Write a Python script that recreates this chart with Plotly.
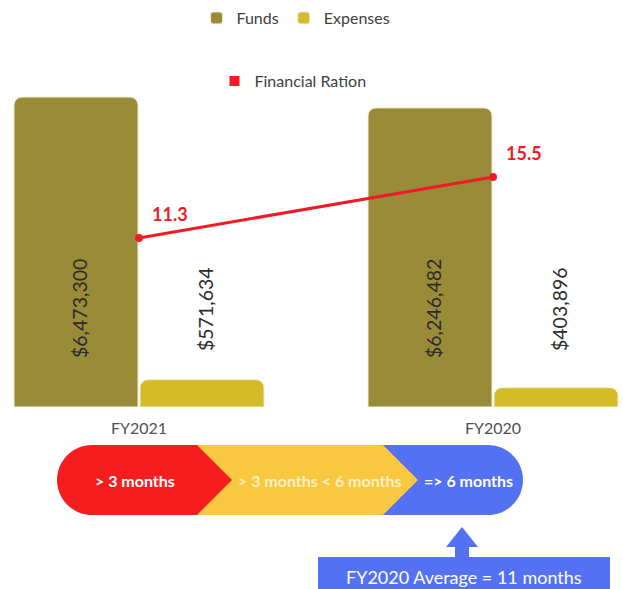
import plotly.graph_objects as go

# ---- data ----
years = ["FY2021", "FY2020"]
funds = [6473300, 6246482]
expenses = [571634, 403896]
ratio = [11.3, 15.5]

band_labels = ["> 3 months", "> 3 months < 6 months", "=> 6 months"]
average_label = "FY2020 Average = 11 months"

# ---- styling ----
W, H = 623, 589
FONT = "Lato"
OLIVE = "#9A8B38"
YELLOW = "#D4BB2A"
RED = "#EE1C25"
BAND_RED = "#F41E1E"
BAND_YELLOW = "#F8C840"
BAND_BLUE = "#5571F3"


def px(x):
    return x / W


def py(y):
    return 1 - y / H


fig = go.Figure()

fig.add_trace(go.Bar(
    x=years, y=funds, name="Funds",
    marker=dict(color=OLIVE, cornerradius=8, line=dict(color="#F3EED2", width=1)),
    hoverinfo="x+y",
))
fig.add_trace(go.Bar(
    x=years, y=expenses, name="Expenses",
    marker=dict(color=YELLOW, cornerradius=8, line=dict(color="#F3EED2", width=1)),
    hoverinfo="x+y",
))
fig.add_trace(go.Scatter(
    x=years, y=ratio, yaxis="y2", mode="lines+markers",
    line=dict(color=RED, width=3), marker=dict(color=RED, size=8),
    name="Financial Ration", showlegend=False,
))
# square key for the ratio line in its own legend row
fig.add_trace(go.Scatter(
    x=[None], y=[None], mode="markers", yaxis="y2",
    marker=dict(color=RED, symbol="square", size=10),
    name="Financial Ration", legend="legend2",
))

annotations = []
# value labels written vertically over each bar pair
for yr, f, e in zip(years, funds, expenses):
    annotations.append(dict(
        x=yr, xref="x", y=py(309), yref="paper", text=f"${f:,}",
        textangle=-90, showarrow=False, xshift=-60,
        xanchor="center", yanchor="middle",
        font=dict(family=FONT, size=19.5, color="#2b2b2b"),
    ))
    annotations.append(dict(
        x=yr, xref="x", y=py(309), yref="paper", text=f"${e:,}",
        textangle=-90, showarrow=False, xshift=66,
        xanchor="center", yanchor="middle",
        font=dict(family=FONT, size=19.5, color="#2b2b2b"),
    ))
# ratio labels
for yr, r in zip(years, ratio):
    annotations.append(dict(
        x=yr, xref="x", y=r, yref="y2", text=f"<b>{r}</b>",
        showarrow=False, xshift=31, yshift=24,
        xanchor="center", yanchor="middle",
        font=dict(family=FONT, size=18, color=RED),
    ))

# band captions
band_centers = [(135, "#FFFFFF"), (320, "#FFF1C4"), (468, "#FFFFFF")]
for lbl, (cx, col) in zip(band_labels, band_centers):
    annotations.append(dict(
        x=px(cx), y=py(480), xref="paper", yref="paper",
        xanchor="center", yanchor="middle",
        text=f"<b>{lbl}</b>", showarrow=False,
        font=dict(family=FONT, size=16, color=col),
    ))
annotations.append(dict(
    x=px(464), y=py(577), xref="paper", yref="paper",
    xanchor="center", yanchor="middle",
    text=average_label, showarrow=False,
    font=dict(family=FONT, size=18, color="#FFFFFF"),
))


def path(points):
    return "M " + " L ".join(f"{px(x):.5f},{py(y):.5f}" for x, y in points) + " Z"


k = 0.5523 * 35
top, mid, bot = 445, 480, 515

# blue band with rounded right end (drawn first, others overlap it)
blue_path = (
    f"M {px(197):.5f},{py(top):.5f} L {px(488):.5f},{py(top):.5f} "
    f"C {px(488 + k):.5f},{py(top):.5f} {px(523):.5f},{py(mid - k):.5f} {px(523):.5f},{py(mid):.5f} "
    f"C {px(523):.5f},{py(mid + k):.5f} {px(488 + k):.5f},{py(bot):.5f} {px(488):.5f},{py(bot):.5f} "
    f"L {px(197):.5f},{py(bot):.5f} Z"
)
yellow_path = path([(197, top), (383, top), (418, mid), (383, bot), (197, bot)])
red_path = (
    f"M {px(92):.5f},{py(top):.5f} L {px(197):.5f},{py(top):.5f} "
    f"L {px(232):.5f},{py(mid):.5f} L {px(197):.5f},{py(bot):.5f} L {px(92):.5f},{py(bot):.5f} "
    f"C {px(92 - k):.5f},{py(bot):.5f} {px(57):.5f},{py(mid + k):.5f} {px(57):.5f},{py(mid):.5f} "
    f"C {px(57):.5f},{py(mid - k):.5f} {px(92 - k):.5f},{py(top):.5f} {px(92):.5f},{py(top):.5f} Z"
)
arrow_path = path([(462, 527), (478, 547), (469, 547), (469, 560),
                   (455, 560), (455, 547), (446, 547)])

shapes = [
    dict(type="path", path=blue_path, xref="paper", yref="paper",
         fillcolor=BAND_BLUE, line=dict(width=0), layer="above"),
    dict(type="path", path=yellow_path, xref="paper", yref="paper",
         fillcolor=BAND_YELLOW, line=dict(width=0), layer="above"),
    dict(type="path", path=red_path, xref="paper", yref="paper",
         fillcolor=BAND_RED, line=dict(width=0), layer="above"),
    dict(type="path", path=arrow_path, xref="paper", yref="paper",
         fillcolor=BAND_BLUE, line=dict(width=0), layer="above"),
    dict(type="rect", x0=px(318), x1=px(610), y0=py(557), y1=py(600),
         xref="paper", yref="paper", fillcolor=BAND_BLUE, line=dict(width=0), layer="above"),
]

ydom = [py(407), py(90)]
fig.update_layout(
    width=W, height=H,
    margin=dict(l=0, r=0, t=0, b=0),
    paper_bgcolor="white", plot_bgcolor="white",
    font=dict(family=FONT),
    barmode="group", bargap=0.288, bargroupgap=0.016,
    xaxis=dict(
        type="category", range=[-0.3927, 1.3672], domain=[0, 1],
        showgrid=False, zeroline=False, showline=False, ticks="",
        tickfont=dict(family=FONT, size=16, color="#505050"),
        ticklabelstandoff=10,
    ),
    yaxis=dict(domain=ydom, range=[0, 6620000], visible=False),
    yaxis2=dict(domain=ydom, range=[-0.344, 21.49], overlaying="y", visible=False),
    legend=dict(
        orientation="h", x=px(296), xanchor="center", y=py(18), yanchor="middle",
        font=dict(family=FONT, size=16, color="#404040"), bgcolor="rgba(0,0,0,0)",
    ),
    legend2=dict(
        orientation="h", x=px(293), xanchor="center", y=py(81), yanchor="middle",
        font=dict(family=FONT, size=16, color="#404040"), bgcolor="rgba(0,0,0,0)",
    ),
    annotations=annotations,
    shapes=shapes,
    showlegend=True,
)

fig.write_html("out.html")
